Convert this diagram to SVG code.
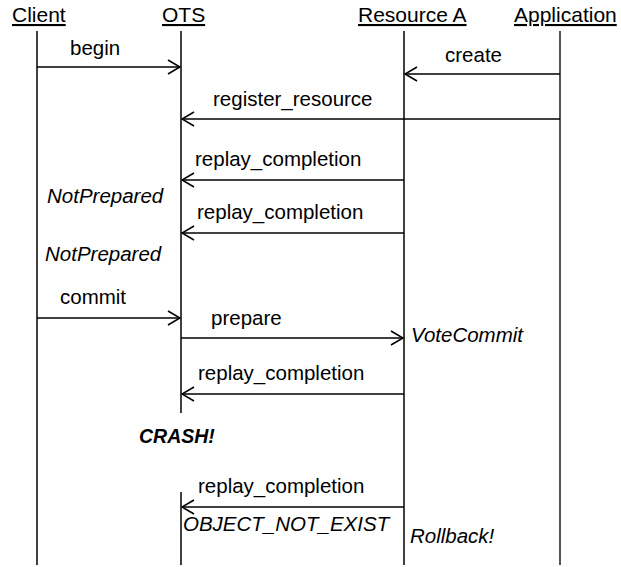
<svg xmlns="http://www.w3.org/2000/svg" width="621" height="567" viewBox="0 0 621 567">
<defs>
<style>
text{font-family:"Liberation Sans",Arial,sans-serif;font-size:20.5px;fill:#000}
.hd{text-decoration:underline;font-size:21px}
.it{font-style:italic}
.bi{font-style:italic;font-weight:bold;font-size:19.5px}
.life{stroke:#000;stroke-width:1.5;fill:none}
.app{stroke:#555;stroke-width:2;fill:none}
.msg{stroke:#000;stroke-width:1.5;fill:none}
</style>
<marker id="ah" viewBox="0 0 14 16" refX="13" refY="8" markerWidth="14" markerHeight="16" markerUnits="userSpaceOnUse" orient="auto">
<path d="M1,1 L13,8 L1,15" fill="none" stroke="#000" stroke-width="1.6"/>
</marker>
</defs>
<rect width="621" height="567" fill="#fff"/>
<g id="client"><text class="hd" x="12" y="22">Client</text><line class="life" x1="37" y1="31" x2="37" y2="565"/></g>
<g id="ots"><text class="hd" x="162" y="22">OTS</text><line class="life" x1="181" y1="31" x2="181" y2="413"/><line class="life" x1="181" y1="492" x2="181" y2="565"/></g>
<g id="resource-a"><text class="hd" x="358" y="22">Resource A</text><line class="life" x1="404" y1="31" x2="404" y2="565"/></g>
<g id="application"><text class="hd" x="514" y="22">Application</text><line class="app" x1="560" y1="31" x2="560" y2="565"/></g>
<g id="connectors">
<line class="msg" x1="37" y1="67" x2="180" y2="67" marker-end="url(#ah)"/>
<line class="msg" x1="560" y1="74" x2="405" y2="74" marker-end="url(#ah)"/>
<line class="msg" x1="560" y1="119" x2="182" y2="119" marker-end="url(#ah)"/>
<line class="msg" x1="404" y1="180" x2="182" y2="180" marker-end="url(#ah)"/>
<line class="msg" x1="404" y1="233" x2="182" y2="233" marker-end="url(#ah)"/>
<line class="msg" x1="37" y1="318" x2="180" y2="318" marker-end="url(#ah)"/>
<line class="msg" x1="181" y1="338" x2="403" y2="338" marker-end="url(#ah)"/>
<line class="msg" x1="404" y1="394" x2="182" y2="394" marker-end="url(#ah)"/>
<line class="msg" x1="404" y1="507" x2="182" y2="507" marker-end="url(#ah)"/>
</g>
<g id="labels">
<text x="70" y="55">begin</text>
<text x="445" y="62">create</text>
<text x="213" y="106">register_resource</text>
<text x="195" y="166">replay_completion</text>
<text class="it" x="47" y="203">NotPrepared</text>
<text x="197" y="219">replay_completion</text>
<text class="it" x="45" y="261">NotPrepared</text>
<text x="60" y="304">commit</text>
<text x="211" y="325">prepare</text>
<text class="it" x="411" y="342">VoteCommit</text>
<text x="198" y="380">replay_completion</text>
<text class="bi" x="139" y="443">CRASH!</text>
<text x="198" y="493">replay_completion</text>
<text class="it" x="183" y="531">OBJECT_NOT_EXIST</text>
<text class="it" x="410" y="543">Rollback!</text>
</g>
</svg>
